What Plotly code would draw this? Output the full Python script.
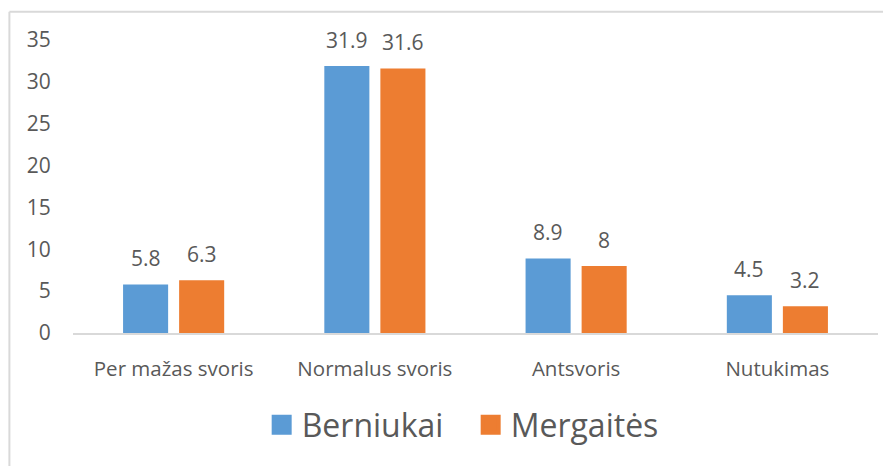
import plotly.graph_objects as go

categories = ["Per mažas svoris", "Normalus svoris", "Antsvoris", "Nutukimas"]
berniukai = [5.8, 31.9, 8.9, 4.5]
mergaites = [6.3, 31.6, 8.0, 3.2]
series_names = ["Berniukai", "Mergaitės"]
colors = ["#5B9BD5", "#ED7D31"]
y_ticks = [0, 5, 10, 15, 20, 25, 30, 35]

FONT = "Open Sans, Segoe UI, sans-serif"
GRAY = "#595959"

fig = go.Figure()
for name, vals, col in zip(series_names, [berniukai, mergaites], colors):
    fig.add_trace(go.Bar(
        x=categories, y=vals, name=name, marker_color=col,
        marker_line_width=0, showlegend=False,
    ))
    # legend proxies
    fig.add_trace(go.Scatter(
        x=[None], y=[None], mode="markers", name=name,
        marker=dict(symbol="square", size=16, color=col, line=dict(color=col, width=4)),
    ))

# data labels
for vals, shift in [(berniukai, -28), (mergaites, 28)]:
    for c, v in zip(categories, vals):
        fig.add_annotation(x=c, y=v, text=f"{v:g}", showarrow=False,
                           xshift=shift, yshift=10, yanchor="bottom",
                           font=dict(family=FONT, size=21, color=GRAY))

# page has an 8px body margin, so figure coords are offset by (8, 8)
fig.update_layout(
    width=891, height=466,
    margin=dict(l=65, r=21, t=32, b=141),
    paper_bgcolor="white", plot_bgcolor="white",
    barmode="group", bargap=0.443, bargroupgap=0.196,
    font=dict(family=FONT, color=GRAY),
    legend=dict(orientation="h", x=0.494, xanchor="center", y=-0.314, yanchor="middle",
                font=dict(family=FONT, size=32, color=GRAY), itemsizing="trace",
                traceorder="normal", entrywidth=164),
    shapes=[
        dict(type="line", xref="paper", yref="paper", x0=-0.079, x1=1.1, y0=1.096, y1=1.096,
             line=dict(color="#D9D9D9", width=2)),
        dict(type="line", xref="paper", yref="paper", x0=-0.079, x1=-0.079, y0=1.096, y1=-0.6,
             line=dict(color="#D9D9D9", width=2)),
    ],
)
fig.update_xaxes(showline=True, linecolor="#D9D9D9", linewidth=2, showgrid=False,
                 ticks="outside", ticklen=16, tickcolor="rgba(0,0,0,0)",
                 tickfont=dict(family=FONT, size=20.5, color=GRAY))
fig.update_yaxes(range=[0, 35], tickvals=y_ticks, showgrid=False, showline=False, zeroline=False,
                 ticks="outside", ticklen=17, tickcolor="rgba(0,0,0,0)",
                 tickfont=dict(family=FONT, size=21, color=GRAY))

fig.write_html("out.html")
